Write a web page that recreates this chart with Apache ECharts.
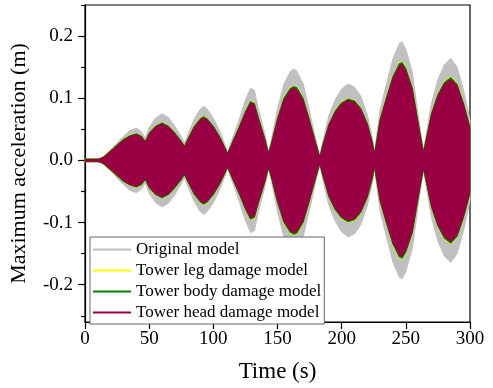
<!DOCTYPE html>
<html>
<head>
<meta charset="utf-8">
<script src="https://cdn.jsdelivr.net/npm/echarts@6/dist/echarts.min.js"></script>
<style>
  html, body { margin: 0; padding: 0; background: #fff; }
  #chart { width: 493px; height: 388px; }
</style>
</head>
<body>
<div id="chart"></div>
<script>
// Sample times (s) of the response envelope
var times = [0, 5, 10, 12, 15, 20, 25, 30, 35, 40, 44, 47, 50, 55, 60, 65, 70, 75, 77.5, 80,
  85, 90, 92.5, 95, 100, 105, 110, 111, 115, 120, 125, 129, 132, 135, 140, 143, 145, 150, 155, 160,
  163, 165, 170, 175, 180, 183, 185, 190, 195, 200, 205, 210, 215, 220, 224, 225.5, 230, 235, 240, 245,
  247, 250, 255, 260, 263.8, 265, 270, 275, 280, 285, 290, 295, 300];

// Peak (envelope) amplitude of each model at those times
var originalModel = [0.002, 0.002, 0.002, 0.003, 0.007, 0.017, 0.028, 0.039, 0.048, 0.052, 0.046, 0.036, 0.053, 0.068, 0.075, 0.069, 0.055, 0.038, 0.028, 0.041,
  0.066, 0.083, 0.087, 0.083, 0.068, 0.047, 0.020, 0.013, 0.036, 0.065, 0.097, 0.116, 0.113, 0.084, 0.044, 0.014, 0.031, 0.083, 0.123, 0.143,
  0.147, 0.144, 0.123, 0.079, 0.033, 0.007, 0.028, 0.072, 0.098, 0.115, 0.123, 0.118, 0.103, 0.073, 0.035, 0.012, 0.082, 0.124, 0.164, 0.188,
  0.191, 0.179, 0.142, 0.068, 0.015, 0.031, 0.092, 0.130, 0.154, 0.164, 0.150, 0.113, 0.065];

var legDamage = [0.002, 0.002, 0.002, 0.0031, 0.0062, 0.0154, 0.0246, 0.0338, 0.040, 0.0431, 0.039, 0.0308, 0.0441, 0.0554, 0.0605, 0.0554, 0.0441, 0.0308, 0.0226, 0.0338,
  0.0543, 0.0677, 0.0707, 0.0677, 0.0554, 0.0379, 0.0164, 0.0103, 0.0297, 0.0533, 0.0789, 0.0953, 0.0923, 0.0697, 0.0359, 0.0113, 0.0256, 0.0677, 0.1005, 0.1169,
  0.1199, 0.1179, 0.1005, 0.0646, 0.0267, 0.0051, 0.0226, 0.0584, 0.080, 0.0933, 0.0994, 0.0964, 0.0841, 0.0595, 0.0287, 0.0092, 0.0666, 0.1025, 0.1363, 0.1568,
  0.1589, 0.1486, 0.1179, 0.0564, 0.0123, 0.0256, 0.0759, 0.1066, 0.1261, 0.1343, 0.123, 0.0923, 0.0533];

var bodyDamage = [0.002, 0.002, 0.002, 0.003, 0.0062, 0.0153, 0.0244, 0.0335, 0.0396, 0.0426, 0.0386, 0.0305, 0.0437, 0.0548, 0.0599, 0.0548, 0.0437, 0.0305, 0.0224, 0.0335,
  0.0538, 0.067, 0.070, 0.067, 0.0548, 0.0376, 0.0163, 0.0102, 0.0295, 0.0528, 0.0782, 0.0944, 0.0914, 0.069, 0.0356, 0.0112, 0.0254, 0.067, 0.0995, 0.1157,
  0.1188, 0.1167, 0.0995, 0.064, 0.0264, 0.0051, 0.0224, 0.0579, 0.0792, 0.0924, 0.0985, 0.0954, 0.0832, 0.0589, 0.0285, 0.0092, 0.066, 0.1015, 0.135, 0.1553,
  0.1573, 0.1472, 0.1167, 0.0559, 0.0122, 0.0254, 0.0751, 0.1056, 0.1248, 0.133, 0.1218, 0.0914, 0.0528];

var headDamage = [0.002, 0.002, 0.002, 0.003, 0.006, 0.015, 0.024, 0.033, 0.039, 0.042, 0.038, 0.030, 0.043, 0.054, 0.059, 0.054, 0.043, 0.030, 0.022, 0.033,
  0.053, 0.066, 0.069, 0.066, 0.054, 0.037, 0.016, 0.010, 0.029, 0.052, 0.077, 0.093, 0.090, 0.068, 0.035, 0.011, 0.025, 0.066, 0.098, 0.114,
  0.117, 0.115, 0.098, 0.063, 0.026, 0.005, 0.022, 0.057, 0.078, 0.091, 0.097, 0.094, 0.082, 0.058, 0.028, 0.009, 0.065, 0.100, 0.133, 0.153,
  0.155, 0.145, 0.115, 0.055, 0.012, 0.025, 0.074, 0.104, 0.123, 0.131, 0.120, 0.090, 0.052];

var yTickValues = [-0.2, -0.1, 0.0, 0.1, 0.2];
var yMinorValues = [-0.25, -0.15, -0.05, 0.05, 0.15, 0.25];

var models = [
  { name: 'Original model', values: originalModel, color: '#c0c0c0', width: 1 },
  { name: 'Tower leg damage model', values: legDamage, color: '#ffff00', width: 1.2 },
  { name: 'Tower body damage model', values: bodyDamage, color: '#008000', width: 1.2 },
  { name: 'Tower head damage model', values: headDamage, color: '#990044', width: 0.5 }
];

var serif = "'Liberation Serif', 'Times New Roman', serif";

// Each model is one closed polygon: along the positive envelope, then back
// along the negative one, placed through the cartesian axes.
function bandRenderer(m) {
  return function (params, api) {
    var pts = [];
    for (var i = 0; i < times.length; i++) pts.push(api.coord([times[i], m.values[i]]));
    for (var j = times.length - 1; j >= 0; j--) pts.push(api.coord([times[j], -m.values[j]]));
    return {
      type: 'polygon',
      shape: { points: pts },
      style: { fill: m.color, stroke: m.color, lineWidth: m.width, lineJoin: 'round' }
    };
  };
}

var series = models.map(function (m) {
  return {
    name: m.name,
    type: 'custom',
    coordinateSystem: 'cartesian2d',
    silent: true,
    data: [[0, 0]],
    itemStyle: { color: m.color },
    renderItem: bandRenderer(m)
  };
});

var chart = echarts.init(document.getElementById('chart'), null, { renderer: 'canvas' });
chart.setOption({
  animation: false,
  backgroundColor: '#fff',
  grid: { left: 85, right: 23, top: 5, bottom: 66, show: true, borderColor: '#000', borderWidth: 1.2, backgroundColor: 'transparent' },
  legend: {
    data: models.map(function (m) { return m.name; }),
    orient: 'vertical',
    left: 90,
    top: 237,
    icon: 'rect',
    itemWidth: 38,
    itemHeight: 2,
    itemGap: 4,
    padding: [4, 3, 3, 3],
    backgroundColor: '#fff',
    borderColor: '#666',
    borderWidth: 1,
    borderRadius: 0,
    selectedMode: false,
    textStyle: { fontFamily: serif, fontSize: 17, color: '#000' }
  },
  xAxis: {
    type: 'value',
    min: 0,
    max: 300,
    interval: 50,
    name: 'Time (s)',
    nameLocation: 'middle',
    nameGap: 38,
    nameTextStyle: { fontFamily: serif, fontSize: 23, color: '#000' },
    axisLine: { show: true, onZero: false, lineStyle: { color: '#000', width: 1.2 } },
    axisTick: { show: true, inside: false, length: 7, lineStyle: { color: '#000', width: 1.2 } },
    axisLabel: { fontFamily: serif, fontSize: 19, color: '#000', margin: 8 },
    splitLine: { show: false }
  },
  yAxis: [{
    type: 'value',
    min: -0.26,
    max: 0.25,
    name: 'Maximum acceleration (m)',
    nameLocation: 'middle',
    nameGap: 55,
    nameTextStyle: { fontFamily: serif, fontSize: 22, color: '#000' },
    axisLine: { show: true, onZero: false, lineStyle: { color: '#000', width: 1.2 } },
    axisTick: { show: true, inside: false, length: 7, customValues: yTickValues, lineStyle: { color: '#000', width: 1.2 } },
    axisLabel: {
      fontFamily: serif, fontSize: 19, color: '#000', margin: 12,
      customValues: yTickValues,
      formatter: function (v) { return v.toFixed(1); }
    },
    splitLine: { show: false }
  }, {
    // short minor ticks between the labelled ones
    type: 'value',
    min: -0.26,
    max: 0.25,
    position: 'left',
    axisLine: { show: false },
    axisTick: { show: true, inside: false, length: 4, customValues: yMinorValues, lineStyle: { color: '#000', width: 1.2 } },
    axisLabel: { show: false },
    splitLine: { show: false }
  }],
  series: series
});
</script>
</body>
</html>
